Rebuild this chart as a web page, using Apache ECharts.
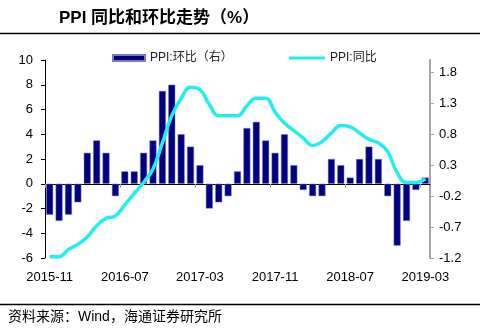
<!DOCTYPE html>
<html>
<head>
<meta charset="utf-8">
<script src="https://cdn.jsdelivr.net/npm/echarts@6/dist/echarts.min.js"></script>
<style>
  html, body { margin: 0; padding: 0; background: #fff; }
  #chart { width: 480px; height: 333px; }
</style>
</head>
<body>
<div id="chart"></div>
<script>
// Monthly categories, 2015-11 through 2019-03
const months = [
  '2015-11', '2015-12',
  '2016-01', '2016-02', '2016-03', '2016-04', '2016-05', '2016-06',
  '2016-07', '2016-08', '2016-09', '2016-10', '2016-11', '2016-12',
  '2017-01', '2017-02', '2017-03', '2017-04', '2017-05', '2017-06',
  '2017-07', '2017-08', '2017-09', '2017-10', '2017-11', '2017-12',
  '2018-01', '2018-02', '2018-03', '2018-04', '2018-05', '2018-06',
  '2018-07', '2018-08', '2018-09', '2018-10', '2018-11', '2018-12',
  '2019-01', '2019-02', '2019-03'
];

// PPI month-on-month change (%), right axis
const ppiMoM = [
  -0.5, -0.6,
  -0.5, -0.3, 0.5, 0.7, 0.5, -0.2,
  0.2, 0.2, 0.5, 0.7, 1.5, 1.6,
  0.8, 0.6, 0.3, -0.4, -0.3, -0.2,
  0.2, 0.9, 1.0, 0.7, 0.5, 0.8,
  0.3, -0.1, -0.2, -0.2, 0.4, 0.3,
  0.1, 0.4, 0.6, 0.4, -0.2, -1.0,
  -0.6, -0.1, 0.1
];

// PPI year-on-year change (%), left axis
const ppiYoY = [
  -5.9, -5.9,
  -5.3, -4.9, -4.3, -3.4, -2.8, -2.6,
  -1.7, -0.8, 0.1, 1.2, 3.3, 5.5,
  6.9, 7.8, 7.6, 6.4, 5.5, 5.5,
  5.5, 6.3, 6.9, 6.9, 5.8, 4.9,
  4.3, 3.7, 3.1, 3.4, 4.1, 4.7,
  4.6, 4.1, 3.6, 3.3, 2.6, 0.9,
  0.1, 0.1, 0.4
];

// Right-axis tick values
const rightTicks = [-1.2, -0.7, -0.2, 0.3, 0.8, 1.3, 1.8];

const latinCjk = 'Liberation Sans, Arial, Noto Sans CJK SC, sans-serif';
const chart = echarts.init(document.getElementById('chart'), null, { renderer: 'canvas' });

chart.setOption({
  animation: false,
  backgroundColor: '#ffffff',
  title: {
    text: 'PPI 同比和环比走势（%）',
    left: 54,
    top: 5,
    textStyle: { fontFamily: latinCjk, fontSize: 17, fontWeight: 'bold', color: '#000' }
  },
  graphic: [
    { type: 'line', shape: { x1: 0, y1: 33.5, x2: 480, y2: 33.5 }, style: { stroke: '#000', lineWidth: 1.5 } },
    { type: 'line', shape: { x1: 0, y1: 304.5, x2: 480, y2: 304.5 }, style: { stroke: '#000', lineWidth: 1.5 } },
    {
      type: 'text', left: 8, top: 310,
      style: { text: '资料来源：Wind，海通证券研究所', fontFamily: latinCjk, fontSize: 14, fill: '#000' }
    }
  ],
  legend: [
    {
      data: ['PPI:环比（右）'],
      left: 107, top: 47,
      icon: 'rect', itemWidth: 32, itemHeight: 6, itemGap: 6,
      textStyle: { fontFamily: latinCjk, fontSize: 12, color: '#222' }
    },
    {
      data: ['PPI:同比'],
      left: 284, top: 47,
      icon: 'rect', itemWidth: 36, itemHeight: 3, itemGap: 4,
      textStyle: { fontFamily: latinCjk, fontSize: 12, color: '#222' }
    }
  ],
  grid: { left: 45, right: 50, top: 60, bottom: 75, containLabel: false },
  xAxis: [
    {
      type: 'category',
      data: months,
      position: 'bottom',
      boundaryGap: true,
      axisLine: { show: false, onZero: false },
      axisTick: { show: false },
      axisLabel: { interval: 7, margin: 13, fontFamily: latinCjk, fontSize: 13, color: '#000' }
    },
    {
      type: 'category',
      data: months,
      position: 'top',
      boundaryGap: true,
      axisLine: { show: true, onZero: true, lineStyle: { color: '#000', width: 1 } },
      axisTick: { show: true, inside: true, interval: 7, length: 4, lineStyle: { color: '#999' } },
      axisLabel: { show: false }
    }
  ],
  yAxis: [
    {
      type: 'value',
      position: 'left',
      min: -6, max: 10, interval: 2,
      axisLine: { show: true, lineStyle: { color: '#000', width: 1 } },
      axisTick: { show: true, length: 4, lineStyle: { color: '#000' } },
      splitLine: { show: false },
      axisLabel: { margin: 12, fontFamily: latinCjk, fontSize: 13, color: '#000' }
    },
    {
      type: 'value',
      position: 'right',
      min: -1.2, max: 2.0, interval: 0.5,
      axisLine: { show: true, lineStyle: { color: '#a6a6a6', width: 2 } },
      axisTick: { show: true, length: 4, customValues: rightTicks, lineStyle: { color: '#a6a6a6' } },
      splitLine: { show: false },
      axisLabel: {
        customValues: rightTicks,
        margin: 9,
        fontFamily: latinCjk, fontSize: 13, color: '#000',
        formatter: v => v.toFixed(1)
      }
    }
  ],
  series: [
    {
      name: 'PPI:环比（右）',
      type: 'bar',
      xAxisIndex: 0,
      yAxisIndex: 1,
      data: ppiMoM,
      barCategoryGap: '26%',
      itemStyle: { color: '#000080', borderColor: '#7a7ab8', borderWidth: 0.5 }
    },
    {
      name: 'PPI:同比',
      type: 'line',
      xAxisIndex: 0,
      yAxisIndex: 0,
      data: ppiYoY,
      smooth: 0.45,
      showSymbol: false,
      symbol: 'none',
      itemStyle: { color: '#22eef0' },
      lineStyle: { color: '#22eef0', width: 3.5 }
    }
  ]
});
</script>
</body>
</html>
